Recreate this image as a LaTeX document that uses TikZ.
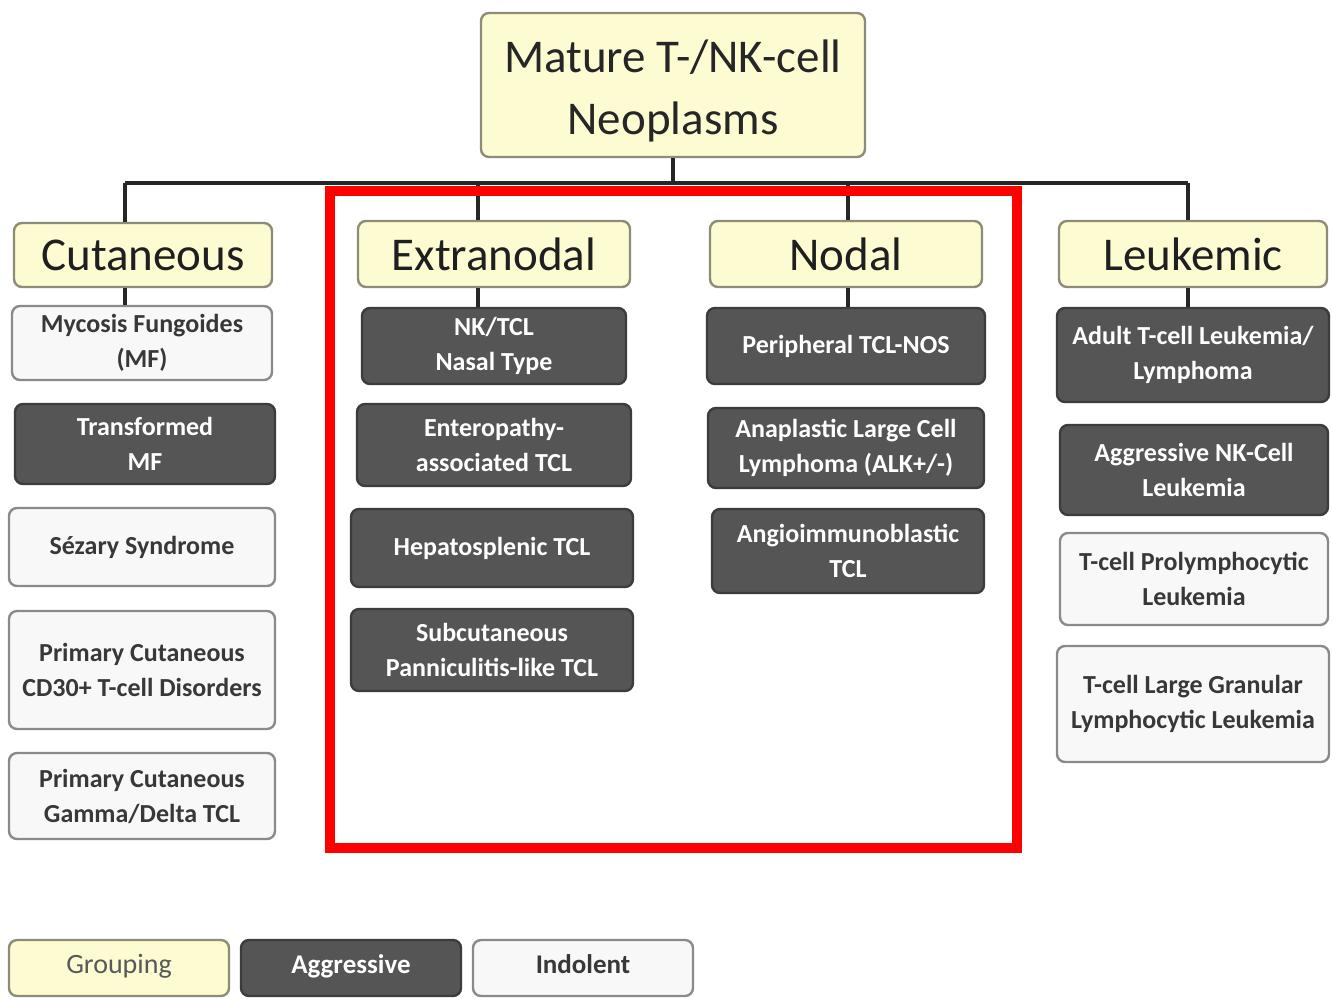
\documentclass[tikz,border=0pt]{standalone}
\usepackage{fontspec}
\setmainfont{Carlito}
\usepackage{tikz}

\definecolor{grpyellow}{HTML}{FDFBD2}
\definecolor{grpedge}{HTML}{8E8C78}
\definecolor{aggrfill}{HTML}{555555}
\definecolor{aggredge}{HTML}{3C3C3C}
\definecolor{indolfill}{HTML}{F8F8F8}
\definecolor{indoledge}{HTML}{8A8A8A}
\definecolor{markred}{HTML}{FF0000}

\begin{document}
\begin{tikzpicture}[x=0.5pt,y=-0.5pt,
  box/.style={rounded corners=4pt,line width=1.2pt,align=center,inner sep=2pt},
  rootbox/.style={box,fill=grpyellow,draw=grpedge,text=black!85,font=\fontsize{23.5}{31}\selectfont},
  grp/.style={box,fill=grpyellow,draw=grpedge,text=black!88,font=\fontsize{23.5}{25}\selectfont},
  aggr/.style={box,fill=aggrfill,draw=aggredge,text=white,font=\bfseries\fontsize{13}{17.5}\selectfont},
  indol/.style={box,fill=indolfill,draw=indoledge,text=black!78,font=\bfseries\fontsize{13}{17.5}\selectfont},
  legend/.style={minimum width=110pt,minimum height=28pt,text height=1.6ex,text depth=.4ex},
  link/.style={line width=1.6pt,black!85}]
\useasboundingbox (0,0) rectangle (1332,998);
\fill[white] (0,0) rectangle (1332,998);

\node[rootbox,minimum width=192pt,minimum height=72pt] (root) at (673,85) {};
\node[align=center,text=black!85,font=\fontsize{23.5}{31}\selectfont] (roottext) at (673,91) {Mature T-/NK-cell\\Neoplasms};

\node[grp,minimum width=129pt,minimum height=32pt] (cut) at (143,255) {Cutaneous};
\node[grp,minimum width=136pt,minimum height=33pt] (extra) at (494,254) {Extranodal};
\node[grp,minimum width=136pt,minimum height=33pt] (nodal) at (846,254) {Nodal};
\node[grp,minimum width=134pt,minimum height=33pt] (leuk) at (1193,254) {Leukemic};

\node[indol,minimum width=130pt,minimum height=37pt] (mf) at (142,343) {Mycosis Fungoides\\(MF)};
\node[aggr,minimum width=130pt,minimum height=40pt] (tmf) at (145,444) {Transformed\\MF};
\node[indol,minimum width=133pt,minimum height=39pt] (sez) at (142,547) {Sézary Syndrome};
\node[indol,minimum width=133pt,minimum height=59pt] (cd30) at (142,670) {Primary Cutaneous\\CD30+ T-cell Disorders};
\node[indol,minimum width=133pt,minimum height=43pt] (gd) at (142,796) {Primary Cutaneous\\Gamma/Delta TCL};

\node[aggr,minimum width=132pt,minimum height=38pt] (nk) at (494,346) {NK/TCL\\Nasal Type};
\node[aggr,minimum width=137pt,minimum height=41pt] (ent) at (494,445) {Enteropathy-\\associated TCL};
\node[aggr,minimum width=141pt,minimum height=39pt] (hep) at (492,548) {Hepatosplenic TCL};
\node[aggr,minimum width=141pt,minimum height=41pt] (sub) at (492,650) {Subcutaneous\\Panniculitis-like TCL};

\node[aggr,minimum width=139pt,minimum height=38pt] (ptcl) at (846,346) {Peripheral TCL-NOS};
\node[aggr,minimum width=138pt,minimum height=40pt] (alcl) at (846,448) {Anaplastic Large Cell\\Lymphoma (ALK+/-)};
\node[aggr,minimum width=136pt,minimum height=42pt] (aitl) at (848,551) {Angioimmunoblastic\\TCL};

\node[aggr,minimum width=136pt,minimum height=47pt] (atll) at (1193,355) {Adult T-cell Leukemia/\\Lymphoma};
\node[aggr,minimum width=134pt,minimum height=45pt] (ank) at (1194,470) {Aggressive NK-Cell\\Leukemia};
\node[indol,minimum width=134pt,minimum height=46pt] (tpll) at (1194,579) {T-cell Prolymphocytic\\Leukemia};
\node[indol,minimum width=136pt,minimum height=58pt] (lgl) at (1193,704) {T-cell Large Granular\\Lymphocytic Leukemia};

\coordinate (b1) at (125,183);
\coordinate (b2) at (478,183);
\coordinate (b3) at (848,183);
\coordinate (b4) at (1188,183);
\draw[link] (b1) -- (b4);
\draw[link] (root.south) -- (root.south |- b1);
\draw[link] (b1) -- (b1 |- cut.north);
\draw[link] (b2) -- (b2 |- extra.north);
\draw[link] (b3) -- (b3 |- nodal.north);
\draw[link] (b4) -- (b4 |- leuk.north);
\draw[link] (b1 |- cut.south) -- (b1 |- mf.north);
\draw[link] (b2 |- extra.south) -- (b2 |- nk.north);
\draw[link] (b3 |- nodal.south) -- (b3 |- ptcl.north);
\draw[link] (b4 |- leuk.south) -- (b4 |- atll.north);

\draw[markred,line width=5pt] (330,191) rectangle (1017,848);

\node[grp,legend,font=\fontsize{14}{15}\selectfont,text=black!65] (lgrp) at (119,968) {Grouping};
\node[aggr,legend,font=\bfseries\fontsize{13.5}{15}\selectfont] (laggr) at (351,968) {Aggressive};
\node[indol,legend,font=\bfseries\fontsize{13.5}{15}\selectfont] (lindol) at (583,968) {Indolent};
\end{tikzpicture}
\end{document}
